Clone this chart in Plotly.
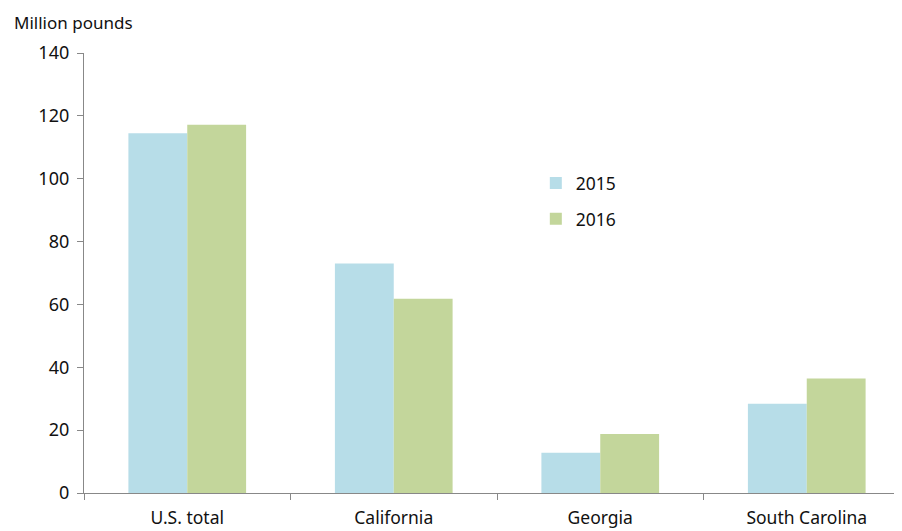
import plotly.graph_objects as go

categories = ["U.S. total", "California", "Georgia", "South Carolina"]
values_2015 = [114.5, 73.0, 12.8, 28.4]
values_2016 = [117.2, 61.8, 18.8, 36.4]
y_ticks = [0, 20, 40, 60, 80, 100, 120, 140]

font_family = "Noto Sans"

fig = go.Figure()
fig.add_trace(go.Bar(name="2015", x=categories, y=values_2015, marker_color="#B7DDE8",
                     marker_line_width=0, legendgroup="a"))
fig.add_trace(go.Bar(name="2016", x=categories, y=values_2016, marker_color="#C3D69B",
                     marker_line_width=0, legendgroup="b"))

fig.update_layout(
    width=902, height=531,
    margin=dict(l=76, r=0, t=45, b=46),
    paper_bgcolor="white", plot_bgcolor="white",
    barmode="group", bargap=0.43, bargroupgap=0,
    font=dict(family=font_family, size=17, color="#111111"),
    showlegend=True,
    legend=dict(x=0.547, y=0.745, xanchor="left", yanchor="top",
                font=dict(size=17.5), bgcolor="rgba(0,0,0,0)",
                itemwidth=30, tracegroupgap=10),
    annotations=[dict(text="Million pounds", xref="paper", yref="paper",
                      x=-0.086, y=1.098, xanchor="left", yanchor="top",
                      showarrow=False, borderpad=0, font=dict(size=17))],
)
fig.update_xaxes(
    range=[-0.5, 3.5], showline=True, linecolor="#888888", linewidth=1.3,
    ticks="outside", tickson="boundaries", ticklen=6, tickcolor="#888888",
    showgrid=False, tickfont=dict(size=17.5), ticklabelstandoff=9,
)
fig.update_yaxes(
    range=[0, 140], tickvals=y_ticks, showline=True, linecolor="#888888", linewidth=1.3,
    ticks="outside", ticklen=6, tickcolor="#888888", showgrid=False, zeroline=False,
    tickfont=dict(size=18), ticklabelstandoff=4,
)

fig.write_html("out.html")
